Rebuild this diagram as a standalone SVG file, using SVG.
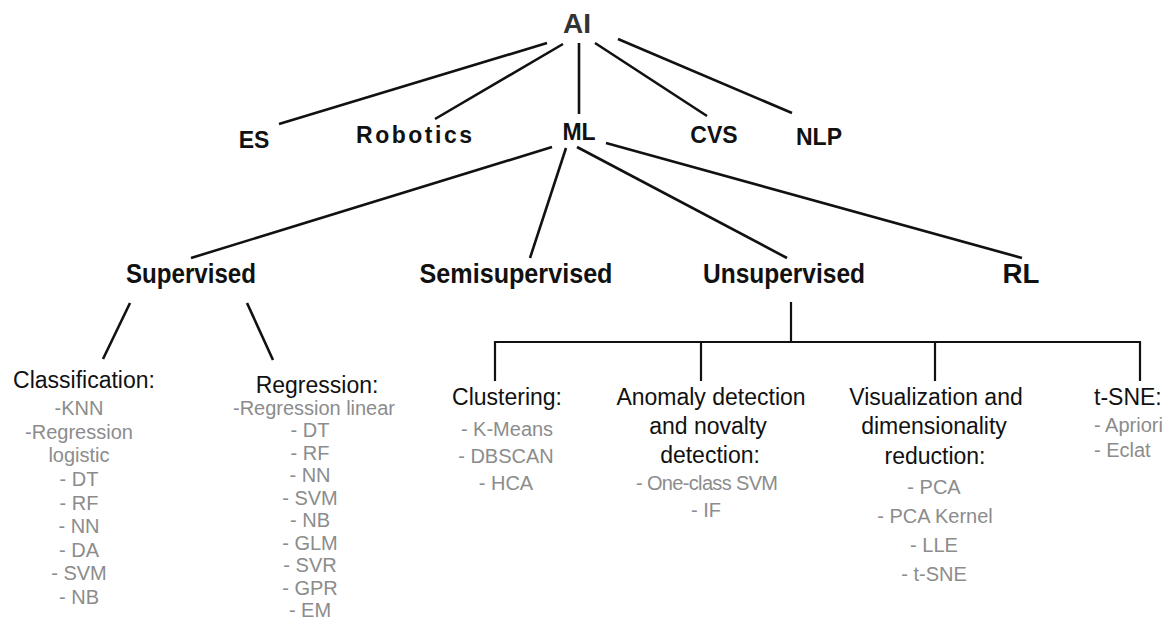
<svg xmlns="http://www.w3.org/2000/svg" width="1173" height="620" viewBox="0 0 1173 620">
  <style>
    .edge{stroke:#111;stroke-width:2.6;fill:none}
    .bracket{stroke:#111;stroke-width:2.2;fill:none}
    text{font-family:"Liberation Sans",Arial,Helvetica,sans-serif}
    .root{font-size:28px;font-weight:bold;fill:#333;text-anchor:middle}
    .l1{font-size:23px;font-weight:bold;fill:#111;text-anchor:middle}
    .l2{font-size:27px;font-weight:bold;fill:#111;text-anchor:middle}
    .head{font-size:23px;fill:#111;text-anchor:middle}
    .item{font-size:20px;fill:#8c8c8c;text-anchor:middle}
    .left{text-anchor:start}
  </style>
  <rect width="1173" height="620" fill="#fff"/>

  <!-- connectors -->
  <g id="connectors">
    <g class="edge">
      <line x1="547" y1="43" x2="279" y2="124"/>
      <line x1="563" y1="44" x2="435" y2="119"/>
      <line x1="579" y1="43" x2="579" y2="114"/>
      <line x1="595" y1="43" x2="707" y2="116"/>
      <line x1="618" y1="39" x2="792" y2="113"/>
      <line x1="552" y1="147" x2="191" y2="258"/>
      <line x1="566" y1="148" x2="530" y2="258"/>
      <line x1="577" y1="147" x2="787" y2="258"/>
      <line x1="606" y1="143" x2="1022" y2="258"/>
      <line x1="130" y1="303" x2="103" y2="359"/>
      <line x1="247" y1="303" x2="273" y2="360"/>
    </g>
    <g class="bracket">
      <line x1="791" y1="302" x2="791" y2="342"/>
      <path d="M495 381 V342 H1140 V381"/>
      <line x1="701" y1="342" x2="701" y2="381"/>
      <line x1="935" y1="342" x2="935" y2="381"/>
    </g>
  </g>

  <!-- top level -->
  <g id="node-ai"><text class="root" x="577" y="33">AI</text></g>
  <g id="node-es"><text class="l1" x="254" y="148">ES</text></g>
  <g id="node-robotics"><text class="l1" x="414" y="143" textLength="116">Robotics</text></g>
  <g id="node-ml"><text class="l1" x="579" y="140">ML</text></g>
  <g id="node-cvs"><text class="l1" x="714" y="143">CVS</text></g>
  <g id="node-nlp"><text class="l1" x="819" y="145">NLP</text></g>

  <!-- learning paradigms -->
  <g id="node-supervised"><text class="l2" x="191" y="283" textLength="130" lengthAdjust="spacingAndGlyphs">Supervised</text></g>
  <g id="node-semisupervised"><text class="l2" x="516" y="283" textLength="193" lengthAdjust="spacingAndGlyphs">Semisupervised</text></g>
  <g id="node-unsupervised"><text class="l2" x="784" y="283" textLength="162" lengthAdjust="spacingAndGlyphs">Unsupervised</text></g>
  <g id="node-rl"><text class="l2" x="1021" y="283" textLength="37" lengthAdjust="spacingAndGlyphs">RL</text></g>

  <!-- supervised tasks -->
  <g id="node-classification">
    <text class="head" x="84" y="388">Classification:</text>
    <text class="item" x="79" y="415">-KNN</text>
    <text class="item" x="79" y="439">-Regression</text>
    <text class="item" x="79" y="462">logistic</text>
    <text class="item" x="79" y="486">- DT</text>
    <text class="item" x="79" y="510">- RF</text>
    <text class="item" x="79" y="533">- NN</text>
    <text class="item" x="79" y="557">- DA</text>
    <text class="item" x="79" y="580">- SVM</text>
    <text class="item" x="79" y="604">- NB</text>
  </g>
  <g id="node-regression">
    <text class="head" x="317" y="393">Regression:</text>
    <text class="item" x="314" y="415" textLength="162">-Regression linear</text>
    <text class="item" x="310" y="437.4">- DT</text>
    <text class="item" x="310" y="459.9">- RF</text>
    <text class="item" x="310" y="482.3">- NN</text>
    <text class="item" x="310" y="504.8">- SVM</text>
    <text class="item" x="310" y="527.2">- NB</text>
    <text class="item" x="310" y="549.7">- GLM</text>
    <text class="item" x="310" y="572.1">- SVR</text>
    <text class="item" x="310" y="594.6">- GPR</text>
    <text class="item" x="310" y="617">- EM</text>
  </g>

  <!-- unsupervised tasks -->
  <g id="node-clustering">
    <text class="head" x="507" y="405">Clustering:</text>
    <text class="item" x="507" y="436">- K-Means</text>
    <text class="item" x="506" y="463">- DBSCAN</text>
    <text class="item" x="506" y="490">- HCA</text>
  </g>
  <g id="node-anomaly">
    <text class="head" x="711" y="405">Anomaly detection</text>
    <text class="head" x="708" y="434">and novalty</text>
    <text class="head" x="710" y="463">detection:</text>
    <text class="item" x="707" y="490" textLength="142">- One-class SVM</text>
    <text class="item" x="706" y="517">- IF</text>
  </g>
  <g id="node-visualization">
    <text class="head" x="936" y="405">Visualization and</text>
    <text class="head" x="934" y="434">dimensionality</text>
    <text class="head" x="935" y="464">reduction:</text>
    <text class="item" x="934" y="494">- PCA</text>
    <text class="item" x="935" y="523">- PCA Kernel</text>
    <text class="item" x="934" y="552">- LLE</text>
    <text class="item" x="934" y="581">- t-SNE</text>
  </g>
  <g id="node-tsne">
    <text class="head left" x="1094" y="405">t-SNE:</text>
    <text class="item left" x="1094" y="432">- Apriori</text>
    <text class="item left" x="1094" y="457">- Eclat</text>
  </g>
</svg>
